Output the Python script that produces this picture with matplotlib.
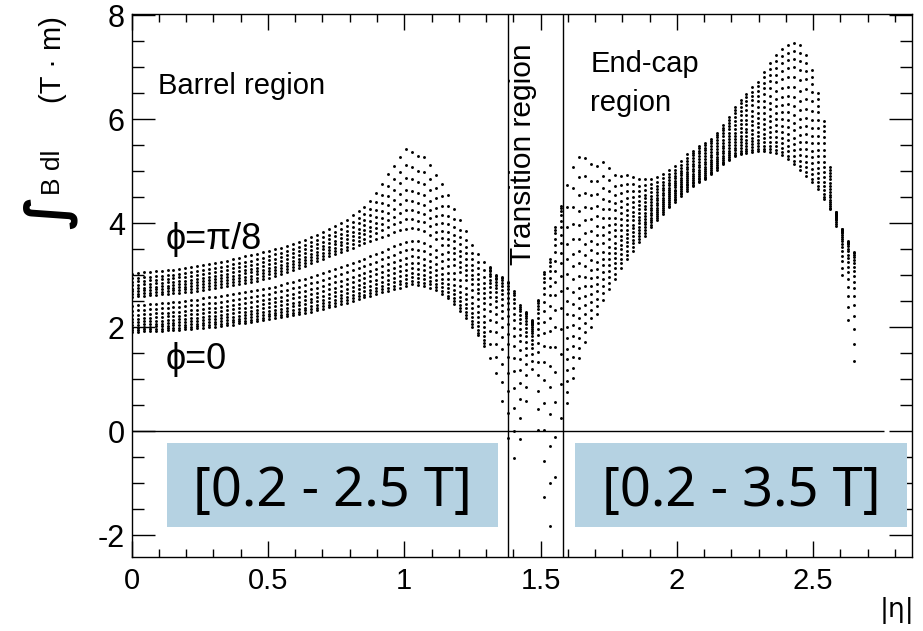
import numpy as np
import matplotlib
matplotlib.use("Agg")
import matplotlib.pyplot as plt
from matplotlib.patches import Rectangle
from matplotlib.ticker import MultipleLocator, FuncFormatter

plt.rcParams['font.family'] = ['Liberation Sans', 'DejaVu Sans']
plt.rcParams['axes.unicode_minus'] = False

# |eta| scan step; column k sits at k * ETA_STEP
ETA_STEP = 0.0219

# ---- Barrel region, columns 0..59 -------------------------------------
# lowest point (phi = 0)
BARREL_PHI0 = [
    1.91, 1.91, 1.92, 1.92, 1.93, 1.93, 1.94, 1.95, 1.95, 1.96,
    1.97, 1.98, 1.99, 2.00, 2.01, 2.02, 2.04, 2.05, 2.07, 2.08,
    2.10, 2.12, 2.14, 2.16, 2.18, 2.19, 2.21, 2.23, 2.25, 2.27,
    2.30, 2.32, 2.35, 2.38, 2.41, 2.44, 2.47, 2.50, 2.54, 2.57,
    2.60, 2.63, 2.67, 2.70, 2.73, 2.76, 2.79, 2.82, 2.81, 2.79,
    2.76, 2.71, 2.64, 2.55, 2.44, 2.31, 2.17, 2.00, 1.84, 1.64]
# upper edge of the lower (small phi) band
BARREL_LOW_BAND_TOP = [
    2.41, 2.42, 2.43, 2.44, 2.45, 2.46, 2.47, 2.48, 2.49, 2.50,
    2.52, 2.53, 2.55, 2.57, 2.58, 2.60, 2.62, 2.63, 2.65, 2.67,
    2.69, 2.71, 2.73, 2.75, 2.78, 2.81, 2.84, 2.87, 2.90, 2.93,
    2.97, 3.00, 3.04, 3.08, 3.11, 3.15, 3.19, 3.23, 3.27, 3.31,
    3.36, 3.40, 3.45, 3.50, 3.55, 3.60, 3.64, 3.66, 3.65, 3.61,
    3.56, 3.49, 3.41, 3.31, 3.19, 3.05, 2.90, 2.72, 2.54, 2.35]
# lower edge of the upper (large phi) band
BARREL_HIGH_BAND_BOTTOM = [
    2.58, 2.59, 2.60, 2.61, 2.62, 2.63, 2.64, 2.65, 2.66, 2.67,
    2.68, 2.70, 2.71, 2.73, 2.75, 2.77, 2.79, 2.81, 2.83, 2.85,
    2.87, 2.89, 2.92, 2.95, 2.98, 3.02, 3.06, 3.10, 3.14, 3.18,
    3.23, 3.27, 3.31, 3.36, 3.40, 3.44, 3.48, 3.53, 3.57, 3.62,
    3.66, 3.70, 3.74, 3.78, 3.82, 3.86, 3.89, 3.90, 3.88, 3.84,
    3.78, 3.69, 3.57, 3.44, 3.30, 3.15, 3.00, 2.83, 2.65, 2.46]
# highest point (phi = pi/8)
BARREL_PHI_PI8 = [
    3.03, 3.04, 3.05, 3.06, 3.07, 3.08, 3.09, 3.10, 3.12, 3.13,
    3.15, 3.17, 3.20, 3.22, 3.24, 3.26, 3.28, 3.31, 3.33, 3.36,
    3.38, 3.41, 3.44, 3.47, 3.50, 3.53, 3.56, 3.60, 3.64, 3.68,
    3.73, 3.78, 3.83, 3.88, 3.94, 4.00, 4.06, 4.15, 4.23, 4.31,
    4.43, 4.57, 4.75, 4.94, 5.10, 5.27, 5.43, 5.37, 5.29, 5.27,
    5.11, 4.92, 4.76, 4.54, 4.28, 4.05, 3.85, 3.58, 3.40, 3.26]

# ---- Transition region, columns 60..72 --------------------------------
TRANSITION_MIN = [1.40, 1.12, 0.57, -0.14, -0.51, -0.16, 0.57,
                  1.20, 0.02, -1.27, -1.82, -0.89, 0.25]
TRANSITION_MAX = [3.15, 3.00, 2.96, 2.87, 2.69, 2.42, 2.29,
                  2.13, 2.52, 3.06, 3.31, 3.92, 4.33]

# ---- End-cap region, columns 73..121 ----------------------------------
ENDCAP_MIN = [
    0.54, 1.02, 1.40, 1.72, 2.01, 2.26, 2.52, 2.74, 2.93, 3.14,
    3.31, 3.47, 3.63, 3.76, 3.92, 4.05, 4.18, 4.30, 4.40, 4.52,
    4.62, 4.72, 4.79, 4.84, 4.94, 5.03, 5.13, 5.21, 5.29, 5.32,
    5.35, 5.37, 5.38, 5.38, 5.37, 5.35, 5.30, 5.23, 5.13, 5.03,
    4.91, 4.79, 4.66, 4.46, 4.27, 3.95, 3.00, 2.14, 1.34]
ENDCAP_MAX = [
    4.73, 5.07, 5.28, 5.26, 5.13, 5.10, 5.18, 5.05, 4.92, 4.91,
    4.92, 4.89, 4.84, 4.84, 4.84, 4.88, 4.94, 5.02, 5.10, 5.19,
    5.32, 5.39, 5.48, 5.54, 5.62, 5.74, 5.88, 6.04, 6.23, 6.37,
    6.49, 6.61, 6.72, 6.90, 7.07, 7.23, 7.34, 7.42, 7.46, 7.42,
    7.23, 6.95, 6.50, 5.96, 5.07, 4.21, 3.89, 3.66, 3.44]

# relative position of each phi step inside a column
LOW_BAND_STEPS = [0, 0.075, 0.16, 0.26, 0.37, 0.50, 0.64, 0.81, 1.0]
HIGH_BAND_STEPS = [0, 0.12, 0.235, 0.355, 0.49, 0.64, 0.80, 1.0]
TOP_DENSE_STEPS = [0, 0.16, 0.30, 0.42, 0.52, 0.60, 0.67, 0.73, 0.78,
                   0.825, 0.865, 0.90, 0.93, 0.955, 0.975, 0.99, 1.0]
EVEN_STEPS = [0, 0.05, 0.10, 0.15, 0.20, 0.25, 0.30, 0.35, 0.41,
              0.47, 0.53, 0.59, 0.66, 0.73, 0.81, 0.90, 1.0]
BOTTOM_DENSE_STEPS = [0, 0.03, 0.07, 0.115, 0.165, 0.22, 0.28, 0.345,
                      0.41, 0.48, 0.555, 0.635, 0.72, 0.80, 0.87, 0.935, 1.0]

X_TICKS = [0, 0.5, 1, 1.5, 2, 2.5]
Y_TICKS = [-2, 0, 2, 4, 6, 8]


def spread(lo, hi, steps):
    return [lo + s * (hi - lo) for s in steps]


xs, ys = [], []
k = 0
for lo, lt, hb, hi in zip(BARREL_PHI0, BARREL_LOW_BAND_TOP,
                          BARREL_HIGH_BAND_BOTTOM, BARREL_PHI_PI8):
    vals = spread(lo, lt, LOW_BAND_STEPS) + spread(hb, hi, HIGH_BAND_STEPS)
    xs += [k * ETA_STEP] * len(vals)
    ys += vals
    k += 1
for lo, hi in zip(TRANSITION_MIN, TRANSITION_MAX):
    vals = spread(lo, hi, TOP_DENSE_STEPS)
    xs += [k * ETA_STEP] * len(vals)
    ys += vals
    k += 1
for lo, hi in zip(ENDCAP_MIN, ENDCAP_MAX):
    eta = k * ETA_STEP
    if eta < 2.05:
        steps = EVEN_STEPS
    elif eta < 2.575:
        steps = BOTTOM_DENSE_STEPS
    else:
        steps = TOP_DENSE_STEPS
    vals = spread(lo, hi, steps)
    xs += [eta] * len(vals)
    ys += vals
    k += 1

fig = plt.figure(figsize=(9.23, 6.31), dpi=100)
ax = fig.add_axes([0.1427, 0.1173, 0.8454, 0.8605])
ax.set_xlim(0, 2.863)
ax.set_ylim(-2.42, 8.02)

ax.plot(xs, ys, linestyle='none', marker='o', ms=2.1, mfc='black',
        mec='none', zorder=3)

# region separators and zero line
for xv in (1.382, 1.582):
    ax.axvline(xv, color='black', lw=1.0, zorder=2)
ax.hlines(0, 0, 2.76, color='black', lw=1.0, zorder=2)

# axes frame and ticks
for sp in ax.spines.values():
    sp.set_linewidth(1.0)
ax.set_xticks(X_TICKS)
ax.set_yticks(Y_TICKS)
ax.xaxis.set_minor_locator(MultipleLocator(0.1))
ax.yaxis.set_minor_locator(MultipleLocator(0.5))
ax.xaxis.set_major_formatter(FuncFormatter(lambda v, p: f"{v:g}"))
ax.yaxis.set_major_formatter(FuncFormatter(lambda v, p: f"{v:g}"))
ax.tick_params(which='both', direction='in', top=True, right=True,
               width=1.0, color='black')
ax.tick_params(axis='x', which='major', length=11.5, labelsize=21, pad=7)
ax.tick_params(axis='x', which='minor', length=5.8)
ax.tick_params(axis='y', which='major', length=16.5, labelsize=22, pad=5)
ax.tick_params(axis='y', which='minor', length=8.3)

# region labels
ax.text(0.097, 6.49, "Barrel region", fontsize=21, va='baseline')
ax.text(0.126, 3.50, "ϕ=π/8", fontsize=26, va='baseline')
ax.text(0.126, 1.20, "ϕ=0", fontsize=26, va='baseline')
ax.text(1.437, 3.19, "Transition region", fontsize=21.5, rotation=90,
        ha='center', va='bottom')
ax.text(1.682, 6.91, "End-cap", fontsize=21, va='baseline')
ax.text(1.682, 6.15, "region", fontsize=21, va='baseline')

# field ranges
box_color = '#b5d2e2'
for x0, x1, label in ((0.13, 1.344, "[0.2 - 2.5 T]"),
                      (1.627, 2.845, "[0.2 - 3.5 T]")):
    ax.add_patch(Rectangle((x0, -1.85), x1 - x0, 1.62, facecolor=box_color,
                           edgecolor='none', zorder=5, clip_on=False))
    ax.text((x0 + x1) / 2, -1.17, label, fontsize=39, ha='center',
            va='center', family=['Noto Sans', 'DejaVu Sans'], zorder=6)

# axis titles
fig.text(897 / 923, 1 - 610 / 631, "|η|", fontsize=19, ha='center',
         va='center', family=['DejaVu Sans'])
fig.text(50 / 923, 1 - 212 / 631, "∫", fontsize=40, rotation=90,
         ha='center', va='center', fontweight='bold',
         family=['DejaVu Sans'])
fig.text(53 / 923, 1 - 172 / 631, "B dl", fontsize=19, rotation=90,
         ha='center', va='center')
fig.text(53 / 923, 1 - 60 / 631, "(T · m)", fontsize=21, rotation=90,
         ha='center', va='center')

fig.savefig("out.png", dpi=100)
